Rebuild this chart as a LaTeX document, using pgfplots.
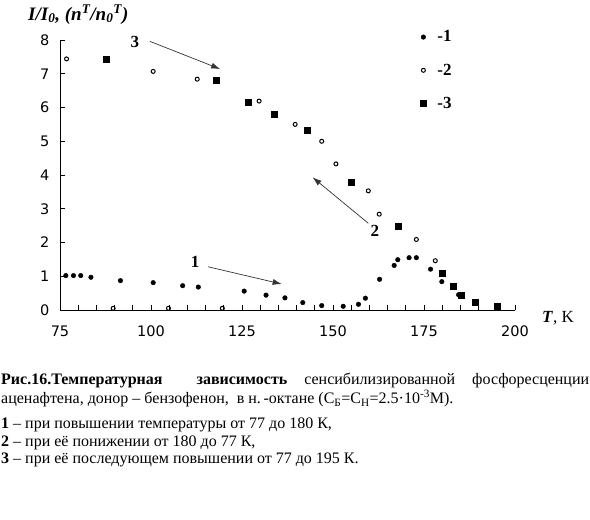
\documentclass[border=0pt]{standalone}
\usepackage{fontspec}
\setmainfont{Liberation Serif}
\newfontfamily\tickfont{DejaVu Sans}
\usepackage{pgfplots}
\pgfplotsset{compat=1.18}
\usetikzlibrary{arrows.meta}

\begin{document}
\begin{tikzpicture}
\useasboundingbox (0pt,0pt) rectangle (590pt,-520pt);
\begin{axis}[
  at={(60pt,-310pt)}, anchor=south west,
  width=455pt, height=270pt, scale only axis,
  xmin=75, xmax=200, ymin=0, ymax=8,
  axis lines=left, axis line style={-, line width=0.8pt},
  xtick={75,100,...,200}, minor x tick num=4, ytick={0,1,...,8},
  tick align=inside, major tick length=5pt, minor tick length=5pt,
  tick style={line width=0.8pt, black},
  ticklabel style={font=\tickfont\fontsize{14.5}{16}\selectfont},
  /pgf/number format/assume math mode=true,
  xticklabel style={yshift=-12pt}, yticklabel style={xshift=-7pt},
  clip=false,
  legend style={draw=none, fill=none, at={(0.785,1.05)}, anchor=north west,
    font=\bfseries\fontsize{17}{19}\selectfont, row sep=16.5pt},
  legend cell align=left,
]
% 1: heating 77 -> 180 K
\addplot[only marks, mark=*, mark size=2.3pt, black] coordinates {
(76.6,1.02) (78.7,1.02) (80.7,1.02) (83.5,0.97) (91.6,0.87) (100.6,0.81)
(108.7,0.72) (113,0.68) (125.6,0.56) (131.6,0.44) (136.8,0.36) (141.7,0.22)
(146.9,0.13) (152.8,0.11) (157,0.17) (158.9,0.35) (162.8,0.91) (166.8,1.32)
(167.8,1.49) (170.9,1.55) (172.9,1.55) (176.8,1.21) (179.9,0.84) (184.5,0.45)};
\addlegendentry{\hspace{9pt}-1}
% 2: cooling 180 -> 77 K
\addplot[only marks, mark=o, mark size=2pt, black, mark options={line width=1pt, fill=white}] coordinates {
(76.8,7.44) (89.6,0.05) (100.6,7.07) (104.8,0.05) (112.7,6.84) (119.6,0.05)
(129.7,6.19) (139.6,5.50) (146.9,5.00) (150.8,4.33) (159.7,3.53) (162.7,2.84)
(172.9,2.09) (178.1,1.46)};
\addlegendentry{\hspace{9pt}-2}
% 3: heating again 77 -> 195 K
\addplot[only marks, mark=square*, mark size=3pt, black] coordinates {
(87.7,7.44) (117.9,6.81) (126.7,6.16) (133.8,5.79) (142.9,5.33) (154.9,3.79)
(167.8,2.47) (179.9,1.08) (182.9,0.70) (185.1,0.43) (189.2,0.24) (195,0.10)};
\addlegendentry{\hspace{9pt}-3}

\draw[-{Latex[length=9pt,width=6pt]}, line width=0.7pt, black!80] (axis cs:99.7,7.96) -- (axis cs:119,7.14);
\node[font=\bfseries\fontsize{17}{19}\selectfont] at (axis cs:95.6,7.95) {3};
\draw[-{Latex[length=9pt,width=6pt]}, line width=0.7pt, black!80] (axis cs:115.7,1.28) -- (axis cs:135.9,0.77);
\node[font=\bfseries\fontsize{17}{19}\selectfont] at (axis cs:112.1,1.43) {1};
\draw[-{Latex[length=9pt,width=6pt]}, line width=0.7pt, black!80] (axis cs:159.7,2.57) -- (axis cs:144.4,3.93);
\node[font=\bfseries\fontsize{17}{19}\selectfont] at (axis cs:161.5,2.34) {2};
\end{axis}

\node[anchor=base west, inner sep=0pt, font=\bfseries\itshape\fontsize{19}{21}\selectfont] at (28pt,-20pt)
  {I/I\textsubscript{0}, (n\textsuperscript{T}/n\textsubscript{0}\textsuperscript{T})};
\node[anchor=base west, inner sep=0pt, font=\fontsize{17}{19}\selectfont] at (542pt,-322pt)
  {\textbf{\textit{T}}, K};

\node[anchor=north west, inner sep=0pt, text width=588pt, align=justify,
  font=\fontsize{16}{19}\selectfont] at (1pt,-373pt) {%
  \textbf{Рис.16.Температурная\ \ зависимость} сенсибилизированной фосфоресценции\linebreak
  аценафтена, донор – бензофенон,\ \ в н.\,-октане (С\textsubscript{Б}=С\textsubscript{Н}=2.5·10\textsuperscript{-3}М).\par
  \vspace{8pt}\fontsize{16}{17.3}\selectfont
  \textbf{1} – при повышении температуры от 77 до 180 К,\par
  \textbf{2} – при её понижении от 180 до 77 К,\par
  \textbf{3} – при её последующем повышении от 77 до 195 К.\par};
\end{tikzpicture}
\end{document}
